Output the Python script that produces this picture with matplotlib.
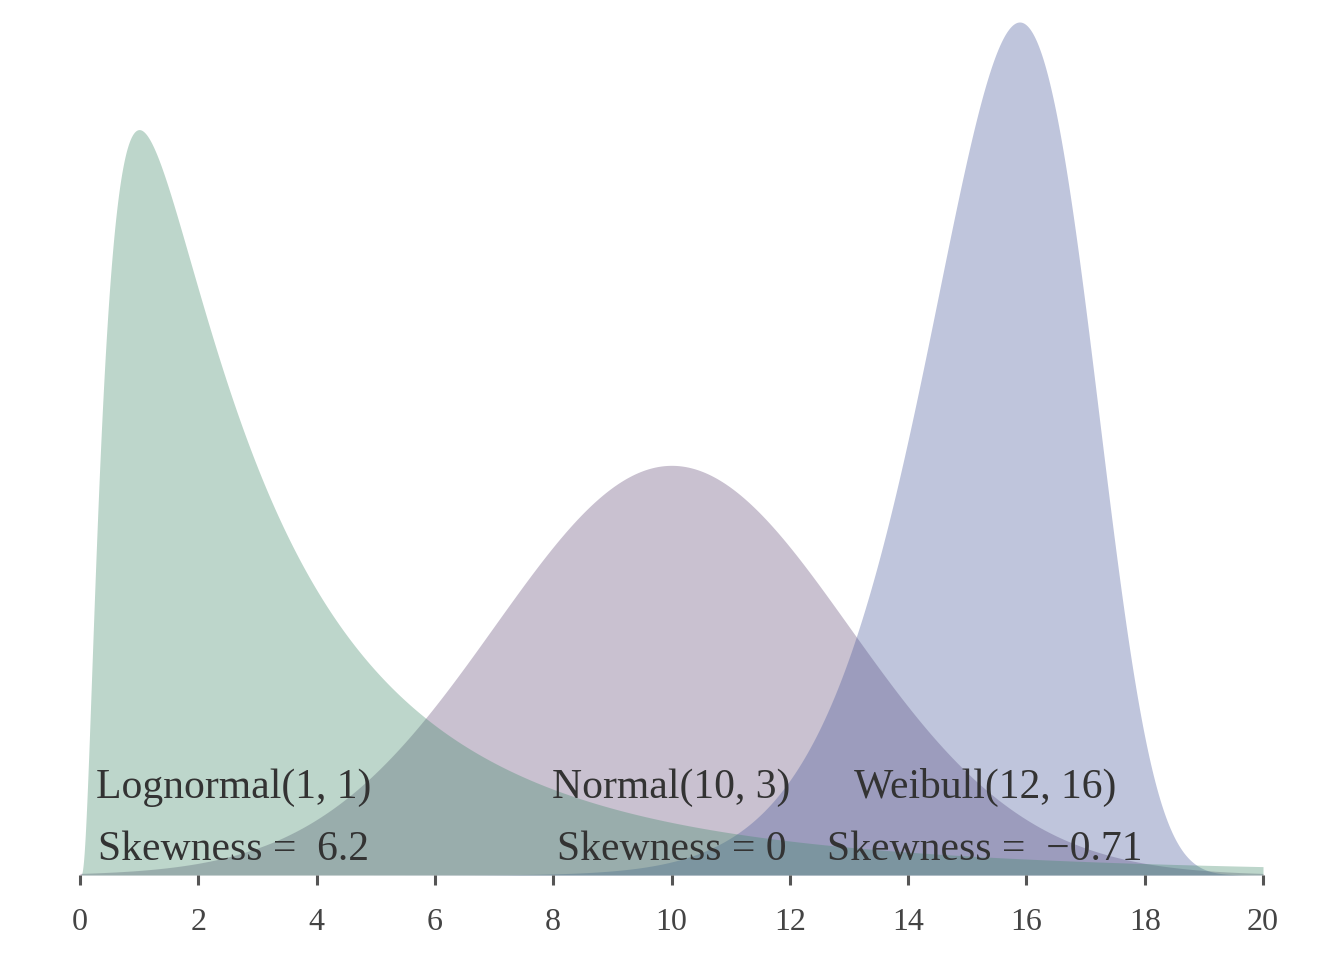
import numpy as np
import matplotlib
matplotlib.use("Agg")
import matplotlib.pyplot as plt

plt.rcParams['font.family'] = ['Liberation Serif', 'DejaVu Serif']

# distributions shown, with their parameters and labels
dist_names = ["Lognormal", "Normal", "Weibull"]
dist_params = [(1, 1), (10, 3), (12, 16)]
dist_labels = ["Lognormal(1, 1)", "Normal(10, 3)", "Weibull(12, 16)"]
skew_labels = ["Skewness =  6.2", "Skewness = 0", "Skewness =  \u22120.71"]
label_x = [2.6, 10.0, 15.3]
fill_colors = ["#428a6a", "#654e79", "#48599b"]
draw_order = [1, 2, 0]
x_ticks = [0, 2, 4, 6, 8, 10, 12, 14, 16, 18, 20]


def density(name, params, x):
    if name == "Lognormal":
        mu, sd = params
        xs = np.clip(x, 1e-9, None)
        return np.exp(-(np.log(xs) - mu) ** 2 / (2 * sd ** 2)) / (xs * sd * np.sqrt(2 * np.pi))
    if name == "Normal":
        mu, sd = params
        return np.exp(-(x - mu) ** 2 / (2 * sd ** 2)) / (sd * np.sqrt(2 * np.pi))
    k, lam = params
    return (k / lam) * (x / lam) ** (k - 1) * np.exp(-(x / lam) ** k)


x = np.linspace(0, 20, 4001)

fig = plt.figure(figsize=(13.44, 9.6), dpi=100)
ax = fig.add_axes([80 / 1344, 85 / 960, 1183 / 1344, 853 / 960])

ymax = 0
for i in draw_order:
    y = density(dist_names[i], dist_params[i], x)
    ymax = max(ymax, y.max())
    ax.fill_between(x, 0, y, color=fill_colors[i], alpha=0.35, linewidth=0)

for lx, l1, l2 in zip(label_x, dist_labels, skew_labels):
    ax.text(lx, 0.025, l1, ha='center', va='baseline', fontsize=30, color='#333333')
    ax.text(lx, 0.0049, l2, ha='center', va='baseline', fontsize=30, color='#333333')

ax.set_xlim(0, 20)
ax.set_ylim(0, ymax)
ax.set_xticks(x_ticks)
ax.set_yticks([])
for s in ['top', 'right', 'left', 'bottom']:
    ax.spines[s].set_visible(False)
ax.tick_params(axis='x', direction='out', length=7, width=2.2, color='#555555',
               labelsize=23, labelcolor='#444444', pad=17)

fig.savefig("out.png", dpi=100)
